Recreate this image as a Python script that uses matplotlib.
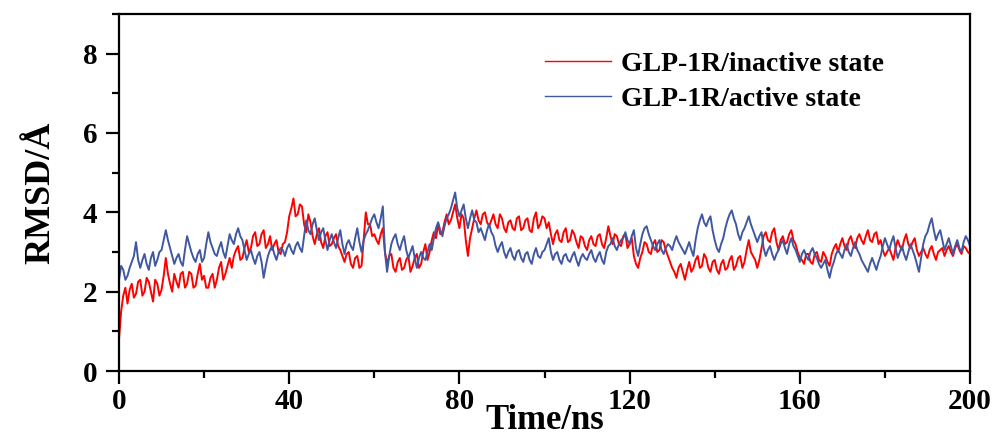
import numpy as np
import matplotlib
matplotlib.use('Agg')
import matplotlib.pyplot as plt
from matplotlib.ticker import MultipleLocator

# RMSD (Angstrom)
# values at whole ns (0..200) and at the half ns in between (0.5..199.5)
inactive_ns = [
    0.8, 1.9, 1.7, 2.2, 1.95, 2.3, 2.0, 2.25, 1.75, 2.2,
    2.05, 2.85, 2.2, 2.45, 2.1, 2.5, 2.2, 2.45, 2.15, 2.7,
    2.4, 2.1, 2.45, 2.3, 2.75, 2.45, 2.85, 2.9, 3.15, 2.85,
    3.3, 3.1, 3.5, 3.2, 3.55, 3.2, 3.05, 3.3, 2.95, 3.25,
    3.9, 4.35, 3.95, 4.15, 3.5, 3.75, 3.2, 3.6, 3.1, 3.5,
    3.2, 3.45, 3.05, 2.75, 3.0, 2.6, 2.9, 2.65, 4.0, 3.7,
    3.45, 3.2, 3.6, 2.7, 2.95, 2.5, 2.85, 2.6, 2.9, 2.65,
    2.95, 2.7, 3.2, 3.0, 3.5, 3.7, 3.5, 3.95, 3.8, 4.2,
    3.6, 3.85, 2.9, 3.6, 4.05, 3.7, 4.0, 3.65, 3.95, 3.6,
    3.85, 3.5, 3.8, 3.55, 3.9, 3.6, 3.85, 3.5, 4.0, 3.7,
    3.85, 3.75, 3.2, 3.55, 3.25, 3.6, 3.3, 3.45, 3.1, 3.35,
    3.05, 3.4, 3.15, 3.45, 3.1, 3.65, 3.2, 3.4, 3.15, 3.45,
    3.2, 2.9, 2.6, 3.0, 3.2, 2.95, 3.3, 3.05, 3.25, 2.9,
    2.6, 2.35, 2.7, 2.3, 2.75, 2.6, 2.9, 2.65, 2.85, 2.5,
    2.8, 2.45, 2.8, 2.6, 2.9, 2.65, 2.9, 2.75, 3.3, 2.9,
    2.6, 3.1, 3.5, 3.25, 3.6, 3.05, 3.4, 3.25, 3.55, 3.2,
    2.85, 2.7, 2.95, 2.7, 3.0, 2.75, 2.9, 2.65, 3.1, 3.0,
    3.35, 3.05, 3.4, 3.1, 3.45, 3.2, 3.55, 3.25, 3.5, 3.3,
    2.9, 3.1, 2.8, 3.3, 3.05, 3.45, 3.1, 3.35, 2.9, 3.1,
    2.85, 3.15, 2.8, 3.05, 2.9, 3.15, 2.9, 3.2, 2.95, 3.1,
    2.95,
]
inactive_half = [
    1.5, 2.1, 2.05, 1.85, 2.25, 1.9, 2.35, 2.0, 2.3, 1.9,
    2.4, 2.45, 2.0, 2.25, 2.45, 2.1, 2.5, 2.1, 2.45, 2.3,
    2.1, 2.35, 2.1, 2.6, 2.3, 2.65, 2.6, 3.05, 2.8, 3.1,
    3.0, 3.4, 3.15, 3.45, 3.1, 3.4, 3.2, 3.0, 3.2, 3.5,
    4.1, 3.9, 4.2, 3.7, 3.95, 3.4, 3.45, 3.25, 3.4, 3.15,
    3.35, 3.15, 2.9, 2.95, 2.7, 2.85, 2.6, 3.3, 3.7, 3.4,
    3.3, 3.45, 3.0, 2.9, 2.6, 2.75, 2.55, 2.8, 2.5, 2.85,
    2.6, 3.0, 2.8, 3.3, 3.35, 3.45, 3.75, 3.7, 4.0, 3.85,
    3.95, 3.3, 3.35, 3.85, 3.8, 3.95, 3.75, 3.8, 3.7, 3.95,
    3.6, 3.75, 3.6, 3.85, 3.55, 3.8, 3.55, 3.85, 3.6, 3.9,
    3.6, 3.45, 3.45, 3.3, 3.5, 3.25, 3.55, 3.25, 3.4, 3.15,
    3.3, 3.2, 3.4, 3.2, 3.35, 3.4, 3.45, 3.2, 3.4, 3.1,
    3.35, 2.7, 2.85, 3.25, 3.0, 3.2, 3.0, 3.3, 3.05, 2.75,
    2.5, 2.6, 2.5, 2.55, 2.5, 2.8, 2.6, 2.95, 2.6, 2.75,
    2.55, 2.7, 2.55, 2.8, 2.55, 2.85, 2.6, 3.05, 3.0, 2.8,
    2.8, 3.4, 3.3, 3.5, 3.25, 3.3, 3.2, 3.45, 3.3, 3.0,
    2.8, 2.95, 2.75, 2.95, 2.8, 3.0, 2.75, 2.95, 3.2, 3.2,
    3.15, 3.3, 3.2, 3.35, 3.3, 3.4, 3.3, 3.45, 3.2, 3.05,
    3.0, 2.95, 3.1, 3.15, 3.3, 3.2, 3.25, 3.05, 3.0, 2.95,
    3.05, 2.95, 3.0, 3.1, 3.05, 3.0, 3.1, 3.05, 3.15, 3.0,
]

active_ns = [
    2.3, 2.55, 2.4, 2.75, 3.25, 2.6, 2.95, 2.55, 3.0, 2.8,
    3.05, 3.55, 3.1, 2.7, 2.95, 2.65, 3.4, 3.0, 2.75, 3.05,
    2.85, 3.5, 3.1, 2.9, 3.25, 2.85, 3.45, 3.2, 3.6, 3.3,
    2.8, 3.05, 2.7, 3.0, 2.35, 2.9, 3.15, 2.8, 3.1, 2.9,
    3.2, 2.95, 3.25, 3.0, 3.8, 3.45, 3.85, 3.3, 3.6, 3.05,
    3.45, 3.1, 3.55, 2.95, 3.3, 3.05, 3.6, 3.0, 3.45, 3.7,
    3.95, 3.6, 4.15, 2.5, 3.2, 3.45, 3.05, 3.4, 2.85, 3.15,
    2.6, 3.0, 2.8, 3.2, 3.35, 3.75, 3.4, 3.85, 4.1, 4.5,
    3.9, 4.2, 3.6, 4.05, 3.75, 3.6, 3.3, 3.7, 3.4, 3.0,
    3.25, 2.85, 3.1, 2.8, 3.05, 2.75, 3.0, 2.7, 3.1, 2.85,
    3.05, 3.35, 2.8, 3.0, 2.7, 2.95, 2.75, 3.0, 2.65, 2.95,
    2.8, 3.05, 2.75, 3.0, 2.7, 3.15, 3.35, 3.05, 3.3, 3.5,
    3.2, 3.55, 2.9, 3.45, 3.65, 3.3, 3.05, 3.3, 2.95, 3.2,
    3.05, 3.4, 3.15, 2.95, 3.25, 2.9, 3.6, 3.95, 3.65, 3.9,
    3.3, 3.0, 3.35, 3.8, 4.05, 3.7, 3.3, 3.6, 3.9, 3.55,
    3.25, 3.5, 2.9, 3.15, 2.8, 3.05, 3.3, 2.95, 3.35, 3.05,
    2.75, 3.05, 2.8, 3.1, 2.85, 2.6, 2.8, 2.35, 2.75, 3.05,
    2.85, 3.2, 2.9, 3.25, 2.95, 2.7, 2.5, 2.85, 2.55, 2.9,
    3.35, 3.05, 3.4, 2.85, 3.15, 2.8, 3.2, 2.9, 2.5, 3.2,
    3.5, 3.85, 3.3, 3.55, 3.05, 3.35, 2.95, 3.3, 3.0, 3.4,
    3.15,
]
active_half = [
    2.65, 2.3, 2.6, 2.9, 2.8, 2.8, 2.7, 2.85, 2.65, 3.0,
    3.3, 3.3, 2.9, 2.85, 2.75, 3.05, 3.2, 2.85, 2.95, 2.75,
    3.2, 3.25, 2.95, 3.1, 3.0, 3.15, 3.3, 3.45, 3.4, 3.05,
    2.95, 2.85, 2.9, 2.75, 2.65, 3.05, 2.95, 3.0, 3.05, 3.1,
    3.05, 3.15, 3.1, 3.4, 3.55, 3.7, 3.55, 3.5, 3.3, 3.3,
    3.25, 3.35, 3.2, 3.2, 3.15, 3.35, 3.25, 3.3, 3.55, 3.85,
    3.75, 3.85, 3.0, 2.9, 3.35, 3.2, 3.25, 3.05, 3.0, 2.85,
    2.85, 2.85, 3.0, 3.05, 3.6, 3.55, 3.65, 3.95, 4.3, 4.1,
    4.05, 3.85, 3.85, 3.8, 3.5, 3.45, 3.55, 3.5, 3.15, 3.15,
    3.0, 3.0, 2.9, 3.0, 2.85, 2.95, 2.8, 2.95, 2.9, 3.0,
    3.2, 3.0, 2.95, 2.8, 2.9, 2.8, 2.9, 2.8, 2.85, 2.85,
    2.95, 2.85, 2.9, 2.8, 3.0, 3.2, 3.15, 3.2, 3.35, 3.3,
    3.4, 3.1, 3.2, 3.6, 3.45, 3.15, 3.2, 3.05, 3.1, 3.15,
    3.25, 3.25, 3.05, 3.1, 3.05, 3.3, 3.8, 3.75, 3.8, 3.55,
    3.1, 3.2, 3.6, 3.95, 3.85, 3.45, 3.5, 3.75, 3.7, 3.4,
    3.4, 3.1, 3.05, 2.95, 2.95, 3.2, 3.1, 3.2, 3.15, 2.9,
    2.95, 2.9, 3.0, 2.95, 2.7, 2.7, 2.55, 2.6, 2.95, 2.95,
    3.05, 3.0, 3.1, 3.05, 2.8, 2.6, 2.7, 2.7, 2.75, 3.15,
    3.2, 3.25, 3.1, 3.0, 2.95, 3.0, 3.05, 2.7, 2.85, 3.4,
    3.7, 3.55, 3.45, 3.3, 3.2, 3.15, 3.15, 3.1, 3.25, 3.3,
]

labels = ['GLP-1R/inactive state', 'GLP-1R/active state']
colors = ['#ff0000', '#4058a0']


def merge(whole, half):
    # interleave whole-ns and half-ns readings into one 0.5 ns series
    out = np.empty(len(whole) + len(half))
    out[0::2] = whole
    out[1::2] = half
    return out


time_ns = np.arange(0, 200.25, 0.5)
inactive = merge(inactive_ns, inactive_half)
active = merge(active_ns, active_half)

plt.rcParams['font.family'] = ['Liberation Serif', 'DejaVu Serif']
plt.rcParams['font.weight'] = 'bold'

fig = plt.figure(figsize=(9.95, 4.36), dpi=100)
ax = fig.add_axes([0.1196, 0.149, 0.8553, 0.819])

ax.plot(time_ns, inactive, color=colors[0], lw=1.4, label=labels[0])
ax.plot(time_ns, active, color=colors[1], lw=1.4, label=labels[1])

ax.set_xlim(0, 200)
ax.set_ylim(0, 9)
ax.xaxis.set_major_locator(MultipleLocator(40))
ax.xaxis.set_minor_locator(MultipleLocator(20))
ax.yaxis.set_major_locator(MultipleLocator(2))
ax.yaxis.set_minor_locator(MultipleLocator(1))

for sp in ax.spines.values():
    sp.set_linewidth(1.6)
ax.tick_params(which='major', direction='out', length=9.5, width=1.6,
               labelsize=21, top=False, right=False)
ax.tick_params(which='minor', direction='out', length=5, width=1.6,
               top=False, right=False)
ax.tick_params(axis='y', which='major', pad=6)
ax.tick_params(axis='x', which='major', pad=3)

ax.set_xlabel('Time/ns', fontsize=25, fontweight='bold', labelpad=-8)
ax.set_ylabel('RMSD/Å', fontsize=26, fontweight='bold', labelpad=18)

leg = ax.legend(loc='upper left', bbox_to_anchor=(0.5, 0.895), frameon=False,
                fontsize=20, handlelength=2.4, handletextpad=0.35,
                labelspacing=0.35, borderpad=0, borderaxespad=0)
for ln in leg.get_lines():
    ln.set_linewidth(1.0)

fig.savefig('out.png', dpi=100)
